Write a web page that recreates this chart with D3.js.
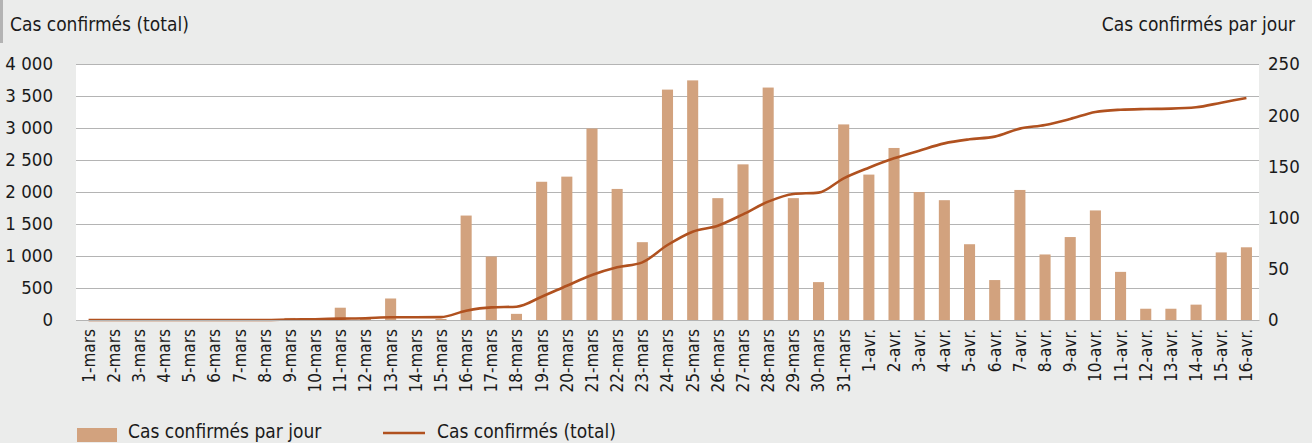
<!DOCTYPE html>
<meta charset="utf-8">
<style>
  body { margin: 0; background: #ebeceb; }
  text { font-family: "Liberation Sans Narrow", "DejaVu Sans Condensed", "Roboto", sans-serif; fill: #1a1a1a; }
</style>
<script src="https://d3js.org/d3.v7.min.js"></script>
<div id="chart"></div>
<script>

var days = ["1-mars","2-mars","3-mars","4-mars","5-mars","6-mars","7-mars","8-mars","9-mars","10-mars",
  "11-mars","12-mars","13-mars","14-mars","15-mars","16-mars","17-mars","18-mars","19-mars","20-mars",
  "21-mars","22-mars","23-mars","24-mars","25-mars","26-mars","27-mars","28-mars","29-mars","30-mars",
  "31-mars","1-avr.","2-avr.","3-avr.","4-avr.","5-avr.","6-avr.","7-avr.","8-avr.","9-avr.","10-avr.",
  "11-avr.","12-avr.","13-avr.","14-avr.","15-avr.","16-avr."];

// cas par jour (axe de droite)
var daily = [0,0,0,0,0,0,0,0,2,1,
  12,1,21,0,1,102,62,6,135,140,
  187,128,76,225,234,119,152,227,119,37,
  191,142,168,125,117,74,39,127,64,81,107,
  47,11,11,15,66,71];

// cas cumulés (axe de gauche)
var total = [0,0,0,0,0,0,0,0,8,12,
  22,28,42,42,45,145,198,208,364,536,
  703,823,901,1172,1380,1474,1651,1849,1969,1990,
  2214,2380,2526,2646,2760,2823,2865,2990,3047,3141,3250,
  3286,3297,3302,3323,3396,3469];

var leftTicks = [0,500,1000,1500,2000,2500,3000,3500,4000];
var rightTicks = [0,50,100,150,200,250];

var W = 1312, H = 443;
var pLeft = 76, pRight = 1259, pTop = 64, pBottom = 320;

var svg = d3.select("#chart").append("svg")
    .attr("width", W)
    .attr("height", H);

svg.append("rect").attr("width", W).attr("height", H).attr("fill", "#ebeceb");
svg.append("rect").attr("x", 0).attr("y", 0).attr("width", 3).attr("height", 43).attr("fill", "#b3b3b3");
svg.append("rect")
    .attr("x", pLeft).attr("y", pTop)
    .attr("width", pRight - pLeft).attr("height", pBottom - pTop)
    .attr("fill", "#fff");

var x = d3.scaleBand()
    .domain(days)
    .range([pLeft, pRight])
    .paddingInner(0.56)
    .paddingOuter(0.28);

var yL = d3.scaleLinear().domain([0, 4000]).range([pBottom, pTop]);
var yR = d3.scaleLinear().domain([0, 250]).range([pBottom, pTop]);

var fr = d3.formatLocale({decimal: ",", thousands: " ", grouping: [3], currency: ["", " €"]});
var fmt = fr.format(",");

// grille
svg.append("g")
    .attr("transform", "translate(" + pLeft + ",0)")
    .call(d3.axisLeft(yL).tickValues(leftTicks).tickSize(-(pRight - pLeft)).tickFormat(""))
    .call(function(g) {
      g.select(".domain").remove();
      g.selectAll("line").attr("stroke", "#b4b4b4").attr("stroke-width", 1.2);
    });

// barres
svg.append("g")
  .selectAll("rect")
  .data(daily)
  .enter()
  .append("rect")
    .attr("x", function(d, i) { return x(days[i]); })
    .attr("width", x.bandwidth())
    .attr("y", function(d) { return yR(d); })
    .attr("height", function(d) { return yR(0) - yR(d); })
    .attr("fill", "#d2a27e");

// courbe
var line = d3.line()
    .x(function(d, i) { return x(days[i]) + x.bandwidth() / 2; })
    .y(function(d) { return yL(d); })
    .curve(d3.curveMonotoneX);

svg.append("path")
    .datum(total)
    .attr("d", line)
    .attr("fill", "none")
    .attr("stroke", "#b0511f")
    .attr("stroke-width", 2.6);

// axe gauche
svg.append("g")
    .attr("transform", "translate(53,0)")
    .call(d3.axisLeft(yL).tickValues(leftTicks).tickSize(0).tickPadding(0).tickFormat(fmt))
    .call(function(g) {
      g.select(".domain").remove();
      g.selectAll("text").attr("font-size", 18.5).attr("fill", "#1a1a1a").attr("font-family", null);
    });

// axe droite
svg.append("g")
    .attr("transform", "translate(1268,0)")
    .call(d3.axisRight(yR).tickValues(rightTicks).tickSize(0).tickPadding(0))
    .call(function(g) {
      g.select(".domain").remove();
      g.selectAll("text").attr("font-size", 18.5).attr("fill", "#1a1a1a").attr("font-family", null);
    });

// axe x
svg.append("g")
    .attr("transform", "translate(0," + pBottom + ")")
    .call(d3.axisBottom(x).tickSize(0).tickPadding(0))
    .call(function(g) {
      g.select(".domain").attr("stroke", "#b4b4b4").attr("stroke-width", 1.2);
      g.selectAll("text")
        .attr("font-size", 17)
        .attr("fill", "#1a1a1a")
        .attr("font-family", null)
        .attr("transform", "rotate(-90)")
        .attr("text-anchor", "end")
        .attr("x", -9)
        .attr("y", 0)
        .attr("dy", "0.35em");
    });

// titres
svg.append("text").attr("x", 10).attr("y", 31).attr("font-size", 19).text("Cas confirmés (total)");
svg.append("text").attr("x", 1295).attr("y", 31).attr("font-size", 19)
    .attr("text-anchor", "end").text("Cas confirmés par jour");

// légende
var leg = svg.append("g");
leg.append("rect").attr("x", 77).attr("y", 428).attr("width", 40).attr("height", 14).attr("fill", "#d2a27e");
leg.append("text").attr("x", 128).attr("y", 438).attr("font-size", 19).text("Cas confirmés par jour");
leg.append("line").attr("x1", 383).attr("x2", 425).attr("y1", 433).attr("y2", 433)
    .attr("stroke", "#b0511f").attr("stroke-width", 2.6);
leg.append("text").attr("x", 437).attr("y", 438).attr("font-size", 19).text("Cas confirmés (total)");

</script>
